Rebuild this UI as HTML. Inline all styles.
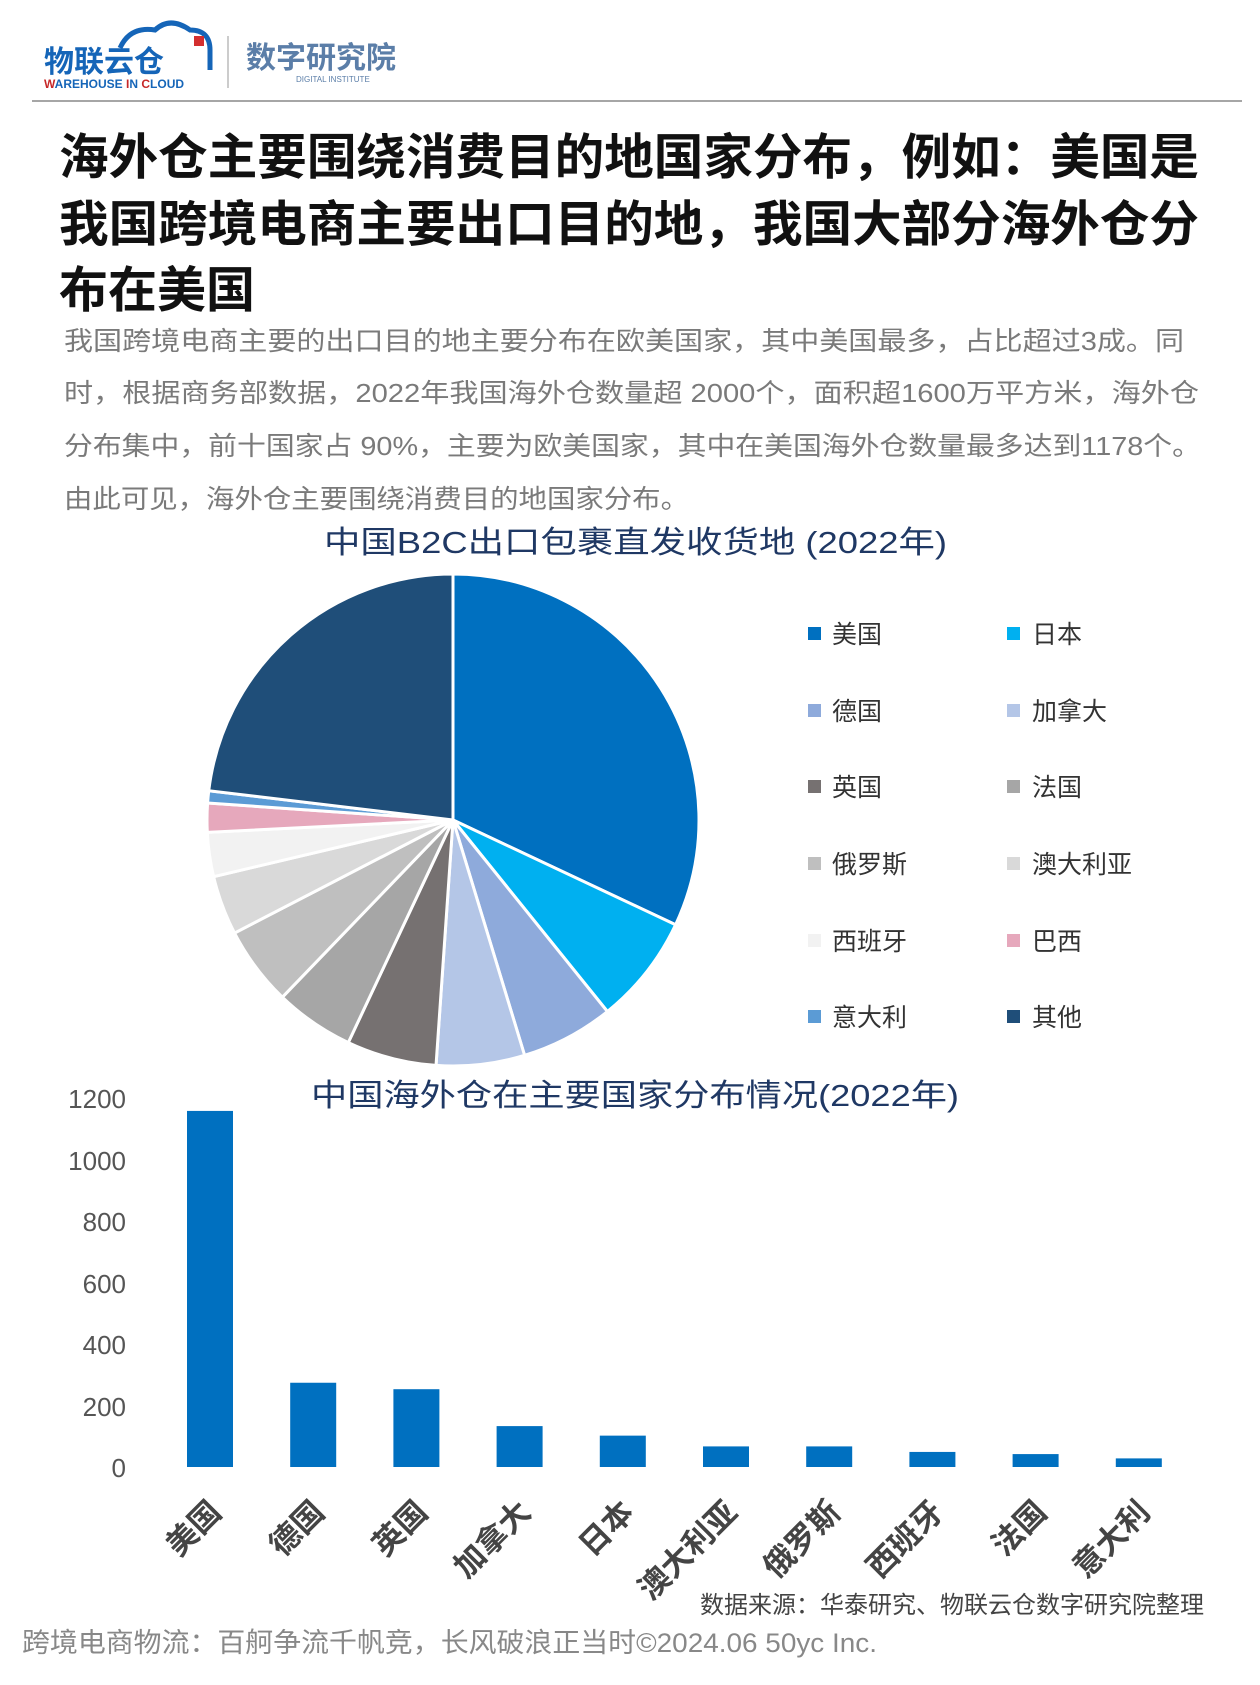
<!DOCTYPE html>
<html><head><meta charset="utf-8"><style>
body{margin:0;background:#fff;width:1260px;height:1680px;overflow:hidden;font-family:"Liberation Sans","Noto Sans CJK SC",sans-serif}
</style></head><body>
<svg width="1260" height="1680" viewBox="0 0 1260 1680" xmlns="http://www.w3.org/2000/svg" font-family="Liberation Sans, Noto Sans CJK SC, sans-serif">
<!-- logo -->
<path d="M120 48 q10-22 35-18 q15-14 35 0 q20 0 20 20 l0 20" fill="none" stroke="#1565b8" stroke-width="5"/>
<rect x="194" y="36" width="10" height="10" fill="#d32f2f"/>
<text x="44" y="72" font-size="30" font-weight="bold" fill="#1565b8">物联云仓</text>
<text x="44" y="88" font-size="12" font-weight="bold" fill="#c62828">W<tspan fill="#1565b8">AREHOUSE</tspan> I<tspan fill="#1565b8">N</tspan> C<tspan fill="#1565b8">LOUD</tspan></text>
<line x1="228" y1="36" x2="228" y2="88" stroke="#bbb" stroke-width="1.5"/>
<text x="246" y="68" font-size="30" font-weight="bold" fill="#5b7ea8">数字研究院</text>
<text x="296" y="82" font-size="8" fill="#5b7ea8">DIGITAL INSTITUTE</text>
<line x1="32" y1="101" x2="1242" y2="101" stroke="#888" stroke-width="1.5"/>
<!-- title -->
<g font-size="49" font-weight="bold" fill="#111">
<text x="59" y="174" textLength="1140" lengthAdjust="spacingAndGlyphs">海外仓主要围绕消费目的地国家分布，例如：美国是</text>
<text x="59" y="241" textLength="1140" lengthAdjust="spacingAndGlyphs">我国跨境电商主要出口目的地，我国大部分海外仓分</text>
<text x="59" y="307">布在美国</text>
</g>
<g font-size="26" fill="#7a7a7a">
<text x="64" y="350" textLength="1120" lengthAdjust="spacingAndGlyphs">我国跨境电商主要的出口目的地主要分布在欧美国家，其中美国最多，占比超过3成。同</text>
<text x="64" y="402" textLength="1135" lengthAdjust="spacingAndGlyphs">时，根据商务部数据，2022年我国海外仓数量超 2000个，面积超1600万平方米，海外仓</text>
<text x="64" y="455" textLength="1137" lengthAdjust="spacingAndGlyphs">分布集中，前十国家占 90%，主要为欧美国家，其中在美国海外仓数量最多达到1178个。</text>
<text x="64" y="508" textLength="625" lengthAdjust="spacingAndGlyphs">由此可见，海外仓主要围绕消费目的地国家分布。</text>
</g>
<text x="324" y="553" font-size="31" fill="#1f3864" textLength="623" lengthAdjust="spacingAndGlyphs">中国B2C出口包裹直发收货地 (2022年)</text>
<!-- pie -->
<g id="pie" stroke="#fff" stroke-width="3"></g>
<!-- legend -->
<g font-size="25" fill="#333">
<rect x="808" y="627" width="13" height="13" fill="#0070c0"/><text x="832" y="643">美国</text>
<rect x="1007" y="627" width="13" height="13" fill="#00b0f0"/><text x="1032" y="643">日本</text>
<rect x="808" y="704" width="13" height="13" fill="#8eaadb"/><text x="832" y="720">德国</text>
<rect x="1007" y="704" width="13" height="13" fill="#b4c6e7"/><text x="1032" y="720">加拿大</text>
<rect x="808" y="780" width="13" height="13" fill="#767171"/><text x="832" y="796">英国</text>
<rect x="1007" y="780" width="13" height="13" fill="#a6a6a6"/><text x="1032" y="796">法国</text>
<rect x="808" y="857" width="13" height="13" fill="#bfbfbf"/><text x="832" y="873">俄罗斯</text>
<rect x="1007" y="857" width="13" height="13" fill="#d9d9d9"/><text x="1032" y="873">澳大利亚</text>
<rect x="808" y="934" width="13" height="13" fill="#f2f2f2"/><text x="832" y="950">西班牙</text>
<rect x="1007" y="934" width="13" height="13" fill="#e6a8bc"/><text x="1032" y="950">巴西</text>
<rect x="808" y="1010" width="13" height="13" fill="#5b9bd5"/><text x="832" y="1026">意大利</text>
<rect x="1007" y="1010" width="13" height="13" fill="#1f4e79"/><text x="1032" y="1026">其他</text>
</g>
<!-- bar chart -->
<g transform="translate(0,-6)">
<text x="311" y="1112" font-size="31" fill="#1f3864" textLength="648" lengthAdjust="spacingAndGlyphs">中国海外仓在主要国家分布情况(2022年)</text>
<g font-size="26" fill="#555" text-anchor="end">
<text x="126" y="1114">1200</text><text x="126" y="1176">1000</text><text x="126" y="1237">800</text>
<text x="126" y="1299">600</text><text x="126" y="1360">400</text><text x="126" y="1422">200</text><text x="126" y="1483">0</text>
</g>
<g id="bars" fill="#0070c0"></g>
<g id="xl" font-size="31" font-weight="bold" fill="#444" text-anchor="end"></g>
</g>
<text x="1204" y="1613" font-size="24" fill="#444" text-anchor="end">数据来源：华泰研究、物联云仓数字研究院整理</text>
<text x="22" y="1652" font-size="27" fill="#888" textLength="855" lengthAdjust="spacingAndGlyphs">跨境电商物流：百舸争流千帆竞，长风破浪正当时©2024.06 50yc Inc.</text>
</svg>
<script>
(function(){
var ns="http://www.w3.org/2000/svg";
var cx=453,cy=820,r=246;
var v=[32,7.2,6.1,5.8,5.9,5.2,5.2,3.9,2.9,1.9,0.8];var s=0;v.forEach(function(a){s+=a});v.push(100-s);
var col=["#0070c0","#00b0f0","#8eaadb","#b4c6e7","#767171","#a6a6a6","#bfbfbf","#d9d9d9","#f2f2f2","#e6a8bc","#5b9bd5","#1f4e79"];
var a0=0,g=document.getElementById("pie");
v.forEach(function(p,i){var a1=a0+p*3.6;
var t0=(a0-90)*Math.PI/180,t1=(a1-90)*Math.PI/180;
var d="M"+cx+" "+cy+" L"+(cx+r*Math.cos(t0))+" "+(cy+r*Math.sin(t0))+" A"+r+" "+r+" 0 "+(p>50?1:0)+" 1 "+(cx+r*Math.cos(t1))+" "+(cy+r*Math.sin(t1))+"Z";
var e=document.createElementNS(ns,"path");e.setAttribute("d",d);e.setAttribute("fill",col[i]);g.appendChild(e);a0=a1;});
var vals=[1158,274,253,133,102,67,67,49,42,28],names=["美国","德国","英国","加拿大","日本","澳大利亚","俄罗斯","西班牙","法国","意大利"];
var b=document.getElementById("bars"),xl=document.getElementById("xl");
vals.forEach(function(h,i){var x=187+i*103.2,y0=1473,hh=h*61.5/200;
var e=document.createElementNS(ns,"rect");e.setAttribute("x",x);e.setAttribute("y",y0-hh);e.setAttribute("width",46);e.setAttribute("height",hh);b.appendChild(e);
var t=document.createElementNS(ns,"text");var tx=x+36,ty=1520;t.setAttribute("x",tx);t.setAttribute("y",ty);
t.setAttribute("transform","rotate(-45 "+tx+" "+ty+")");t.textContent=names[i];xl.appendChild(t);});
})();
</script>
</body></html>
